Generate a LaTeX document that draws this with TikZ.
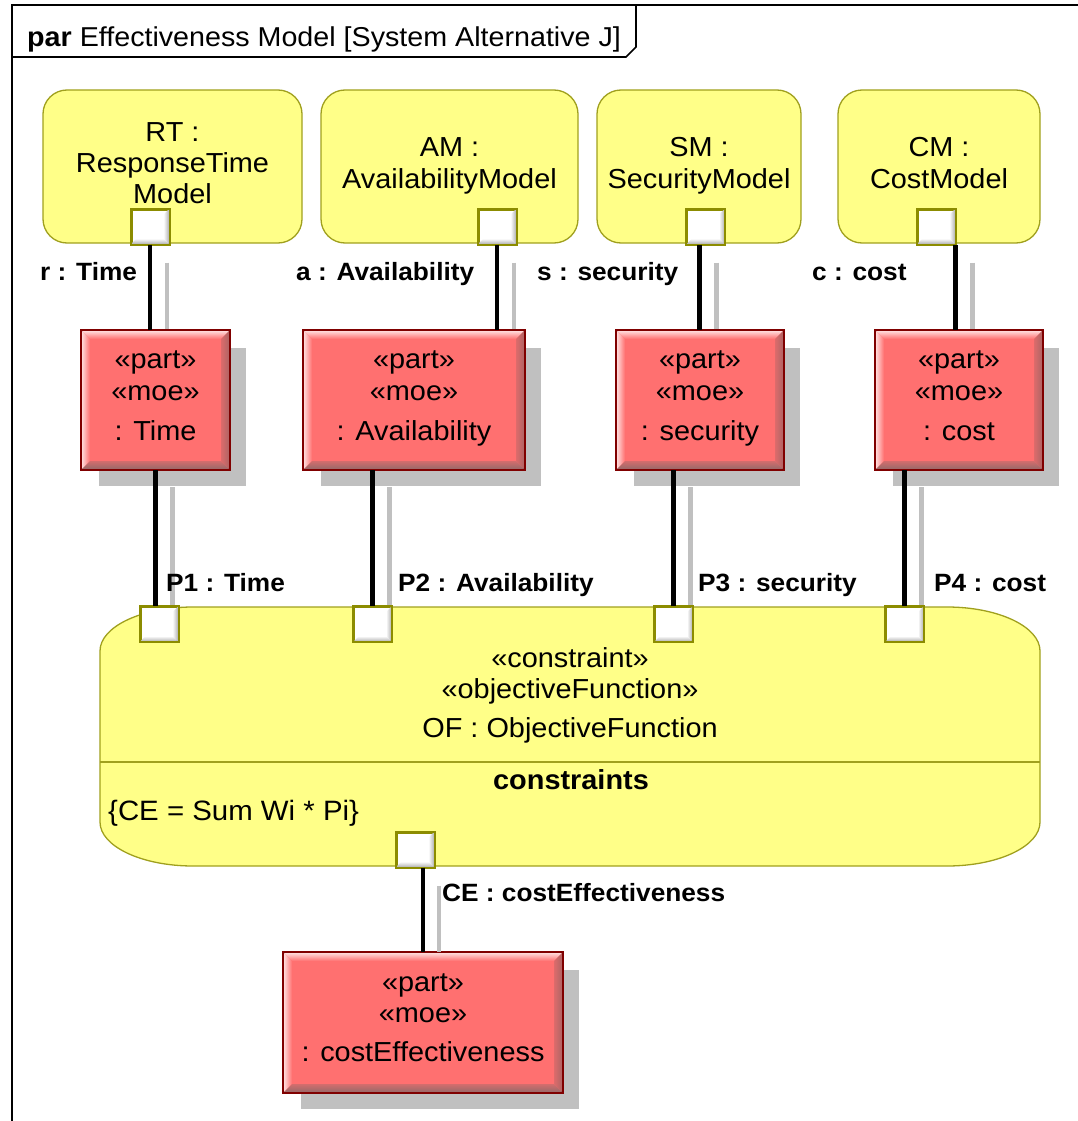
\documentclass[tikz,border=0pt]{standalone}
\usepackage{fontspec}
\setmainfont{Liberation Sans}[FakeStretch=1.05]
\usetikzlibrary{calc}
\definecolor{yfill}{RGB}{255,255,136}
\definecolor{yline}{RGB}{160,160,30}
\definecolor{pline}{RGB}{140,140,0}
\definecolor{rfill}{RGB}{255,112,112}
\definecolor{rline}{RGB}{128,0,0}
\definecolor{rtop}{RGB}{255,230,230}
\definecolor{rright}{RGB}{170,100,100}
\definecolor{rbot}{RGB}{145,105,105}
\definecolor{sgray}{RGB}{192,192,192}
\definecolor{pbev}{RGB}{170,170,170}
\newcommand\redbevel[1]{%
  \shade[top color=rtop, bottom color=rfill] (#1.north west) -- (#1.north east) -- ($(#1.north east)+(-9,9)$) -- ($(#1.north west)+(9,9)$) -- cycle;
  \shade[left color=rtop, right color=rfill] (#1.north west) -- ($(#1.north west)+(9,9)$) -- ($(#1.south west)+(9,-9)$) -- (#1.south west) -- cycle;
  \shade[left color=rfill!60!rright, right color=rright] (#1.north east) -- (#1.south east) -- ($(#1.south east)+(-9,-9)$) -- ($(#1.north east)+(-9,9)$) -- cycle;
  \shade[top color=rfill!60!rbot, bottom color=rbot] (#1.south west) -- (#1.south east) -- ($(#1.south east)+(-9,-9)$) -- ($(#1.south west)+(9,-9)$) -- cycle;
  \draw[rline, line width=2pt] (#1.north west) rectangle (#1.south east);}
\newcommand\portbevel[1]{%
  \shade[left color=white, right color=pbev] (#1.north east) -- (#1.south east) -- ($(#1.south east)+(-6,-6)$) -- ($(#1.north east)+(-6,6)$) -- cycle;
  \shade[top color=white, bottom color=pbev] (#1.south west) -- (#1.south east) -- ($(#1.south east)+(-6,-6)$) -- ($(#1.south west)+(6,-6)$) -- cycle;
  \draw[pline, line width=2pt] (#1.north west) rectangle (#1.south east);}
\newcommand\partshadow[1]{\fill[sgray] ($(#1.north west)+(17,17)$) rectangle ($(#1.south east)+(17,17)$);}
\begin{document}
\begin{tikzpicture}[x=1pt,y=-1pt,
  txt/.style={font=\fontsize{27.5}{31}\selectfont, inner sep=0, anchor=base},
  btxt/.style={font=\fontsize{27.5}{31}\selectfont\bfseries, inner sep=0, anchor=base},
  lbl/.style={font=\fontsize{25}{30}\selectfont\bfseries, inner sep=0, anchor=base west},
  ybox/.style={draw=yline, fill=yfill, line width=1.3pt, rounded corners=24pt, inner sep=0, minimum height=153pt},
  port/.style={draw=pline, fill=white, line width=2pt, minimum width=37pt, minimum height=34pt, inner sep=0},
  rpart/.style={draw=rline, fill=rfill, line width=2pt, inner sep=0, minimum height=138pt},
  conn/.style={draw=black, line width=4.2pt},
  sconn/.style={draw=sgray, line width=4.5pt},
  frame/.style={draw=black, line width=1.6pt}]
\useasboundingbox (0,0) rectangle (1078,1121);
\fill[white] (0,0) rectangle (1078,1121);

% frame
\draw[frame] (12,1125) -- (12,5) -- (1082,5);
\draw[frame] (636,5) -- (636,47) -- (626,57) -- (12,57);
\node[font=\fontsize{27.3}{31}\selectfont, inner sep=0, anchor=base west] (title) at (27,47) {\textbf{par} Effectiveness Model [System Alternative J]};

% yellow blocks
\node[ybox, minimum width=259pt] (rt) at (172.5,166.5) {};
\node[ybox, minimum width=257pt] (am) at (449.5,166.5) {};
\node[ybox, minimum width=204pt] (sm) at (699,166.5) {};
\node[ybox, minimum width=202pt] (cm) at (939,166.5) {};

\node[txt] (rt1) at (172.5,141) {RT :};
\node[txt] (rt2) at (172.5,172) {ResponseTime};
\node[txt] (rt3) at (172.5,203) {Model};
\node[txt] (am1) at (449.5,157) {AM :};
\node[txt] (am2) at (449.5,188) {AvailabilityModel};
\node[txt] (sm1) at (699,157) {SM :};
\node[txt] (sm2) at (699,188) {SecurityModel};
\node[txt] (cm1) at (939,157) {CM :};
\node[txt] (cm2) at (939,188) {CostModel};

\node[port] (rtp) at (150,226.5) {};
\node[port] (amp) at (497,226.5) {};
\node[port] (smp) at (705.5,226.5) {};
\node[port] (cmp) at (936,226.5) {};
\portbevel{rtp}\portbevel{amp}\portbevel{smp}\portbevel{cmp}

% part outlines (for shadows)
\path (155.5,400) node[minimum width=147pt, minimum height=138pt, inner sep=0] (tpartS) {}
      (414,400) node[minimum width=220pt, minimum height=138pt, inner sep=0] (apartS) {}
      (700,400) node[minimum width=166pt, minimum height=138pt, inner sep=0] (spartS) {}
      (959,400) node[minimum width=166pt, minimum height=138pt, inner sep=0] (cpartS) {}
      (423,1022.5) node[minimum width=278pt, minimum height=139pt, inner sep=0] (cepartS) {};
\partshadow{tpartS}\partshadow{apartS}\partshadow{spartS}\partshadow{cpartS}\partshadow{cepartS}

% upper connector shadows
\coordinate (gr) at ($(rtp.south)+(17,18)$);
\coordinate (ga) at ($(amp.south)+(17,18)$);
\coordinate (gs) at ($(smp.south)+(11,18)$);
\coordinate (gc) at ($(cmp.south east)+(17,18)$);
\draw[sconn] (gr) -- (gr |- tpartS.north);
\draw[sconn] (ga) -- (ga |- apartS.north);
\draw[sconn] (gs) -- (gs |- spartS.north);
\draw[sconn] (gc) -- (gc |- cpartS.north);

% red parts
\node[rpart, minimum width=147pt] (tpart) at (155.5,400) {};
\node[rpart, minimum width=220pt] (apart) at (414,400) {};
\node[rpart, minimum width=166pt] (spart) at (700,400) {};
\node[rpart, minimum width=166pt] (cpart) at (959,400) {};
\node[rpart, minimum width=278pt, minimum height=139pt] (cepart) at (423,1022.5) {};
\redbevel{tpart}\redbevel{apart}\redbevel{spart}\redbevel{cpart}\redbevel{cepart}

\node[txt] (t1) at (155.5,368) {«part»};
\node[txt] (t2) at (155.5,400) {«moe»};
\node[txt] (t3) at (155.5,440) {: Time};
\node[txt] (a1) at (414,368) {«part»};
\node[txt] (a2) at (414,400) {«moe»};
\node[txt] (a3) at (414,440) {: Availability};
\node[txt] (s1) at (700,368) {«part»};
\node[txt] (s2) at (700,400) {«moe»};
\node[txt] (s3) at (700,440) {: security};
\node[txt] (c1) at (959,368) {«part»};
\node[txt] (c2) at (959,400) {«moe»};
\node[txt] (c3) at (959,440) {: cost};
\node[txt] (ce1) at (423,991) {«part»};
\node[txt] (ce2) at (423,1022.5) {«moe»};
\node[txt] (ce3) at (423,1061) {: costEffectiveness};

% upper connectors
\draw[conn] (rtp.south) -- (rtp.south |- tpart.north);
\draw[conn] (amp.south) -- (amp.south |- apart.north);
\draw[conn] ([xshift=-6pt]smp.south) -- ([xshift=-6pt]smp.south |- spart.north);
\draw[conn] (cmp.south east) -- (cmp.south east |- cpart.north);

% constraint block
\node[minimum width=940pt, minimum height=259pt, inner sep=0] (of) at (570,736.5) {};
\node[port] (p1) at (159,624) {};
\node[port] (p2) at (372.5,624) {};
\node[port] (p3) at (673.5,624) {};
\node[port] (p4) at (904.5,624) {};
\node[port] (cep) at (415,849.5) {};

% lower connector shadows
\coordinate (g1) at ($(tpart.south)+(17,17)$);
\coordinate (g2) at ($(p2.north |- apart.south)+(17,17)$);
\coordinate (g3) at ($(p3.north |- spart.south)+(17,17)$);
\coordinate (g4) at ($(p4.north |- cpart.south)+(17,17)$);
\coordinate (g5) at ($(cep.south -| cepart.north)+(16,18)$);
\draw[sconn] (g1) -- (g1 |- of.north);
\draw[sconn] (g2) -- (g2 |- of.north);
\draw[sconn] (g3) -- (g3 |- of.north);
\draw[sconn] (g4) -- (g4 |- of.north);
\draw[sconn] (g5) -- (g5 |- cepart.north);

\draw[draw=yline, fill=yfill, line width=1.3pt]
  (193,607) -- (947,607) .. controls (998.3,607) and (1040,626.7) .. (1040,651)
  -- (1040,822) .. controls (1040,846.3) and (998.3,866) .. (947,866)
  -- (193,866) .. controls (141.7,866) and (100,846.3) .. (100,822)
  -- (100,651) .. controls (100,626.7) and (141.7,607) .. (193,607) -- cycle;
\draw[draw=yline, line width=1.6pt] (100,762) -- (1040,762);

\node[port] at (p1) {};\node[port] at (p2) {};\node[port] at (p3) {};\node[port] at (p4) {};\node[port] at (cep) {};
\portbevel{p1}\portbevel{p2}\portbevel{p3}\portbevel{p4}\portbevel{cep}

\node[txt] (of1) at (570,667) {«constraint»};
\node[txt] (of2) at (570,698) {«objectiveFunction»};
\node[txt] (of3) at (570,737) {OF : ObjectiveFunction};
\node[btxt] (of4) at (571,789) {constraints};
\node[txt, anchor=base west, font=\fontsize{28}{31}\selectfont] (of5) at (108,820) {\{CE = Sum Wi * Pi\}};

% lower connectors
\draw[conn] (tpart.south) -- (tpart.south |- p1.north);
\draw[conn] (p2.north |- apart.south) -- (p2.north);
\draw[conn] (p3.north |- spart.south) -- (p3.north);
\draw[conn] (p4.north |- cpart.south) -- (p4.north);
\draw[conn] (cep.south -| cepart.north) -- (cepart.north);

% labels
\node[lbl] (rl) at (40,280) {r : Time};
\node[lbl] (al) at (296,280) {a : Availability};
\node[lbl] (sl) at (537,280) {s : security};
\node[lbl] (cl) at (812,280) {c : cost};
\node[lbl] (p1l) at (166,591) {P1 : Time};
\node[lbl] (p2l) at (398,591) {P2 : Availability};
\node[lbl] (p3l) at (698,591) {P3 : security};
\node[lbl] (p4l) at (934,591) {P4 : cost};
\node[lbl] (cel) at (442,901) {CE : costEffectiveness};
\end{tikzpicture}
\end{document}
